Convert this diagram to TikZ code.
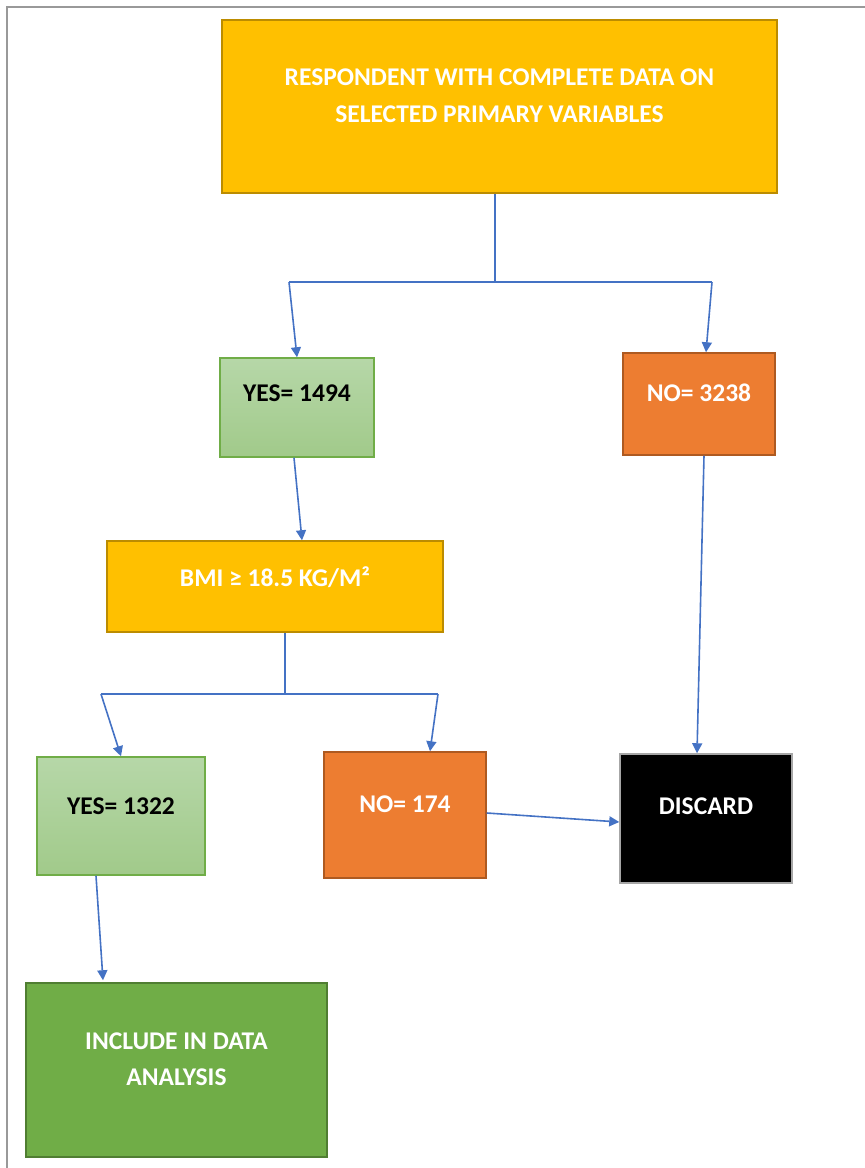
\documentclass[tikz,border=0pt]{standalone}
\usepackage{fontspec}
\setmainfont{Carlito}
\usetikzlibrary{arrows.meta}
\definecolor{gold}{HTML}{FFC000}
\definecolor{goldline}{HTML}{BC8C00}
\definecolor{orng}{HTML}{ED7D31}
\definecolor{orngline}{HTML}{AE5A21}
\definecolor{lgreentop}{HTML}{B6D7A8}
\definecolor{lgreenbot}{HTML}{A1CA8A}
\definecolor{dgreen}{HTML}{70AD47}
\definecolor{dgreenline}{HTML}{507E32}
\definecolor{linkblue}{HTML}{4472C4}
\begin{document}
\begin{tikzpicture}[x=1pt,y=-1pt,
  box/.style={rectangle,line width=1.5pt,inner sep=0pt,align=center,
    font=\bfseries\fontsize{25.5}{36.5}\selectfont,text height=16pt,text depth=22pt},
  twoline/.style={text height=53.5pt,text depth=22pt},
  goldbox/.style={box,fill=gold,draw=goldline,text=white},
  orngbox/.style={box,fill=orng,draw=orngline,text=white},
  yesbox/.style={box,top color=lgreentop,bottom color=lgreenbot,draw=dgreen,text=black},
  link/.style={draw=linkblue,line width=1.6pt},
  arr/.style={link,-{Triangle[length=10pt,width=10pt]}}]
  \useasboundingbox (0,0) rectangle (865,1168);
  \draw[gray!80,line width=1.5pt] (7,1168) -- (7,7) -- (865,7);

  \node[goldbox,twoline,minimum width=555pt,minimum height=173pt] (resp) at (499.5,106.5)
    {RESPONDENT WITH COMPLETE DATA ON\\SELECTED PRIMARY VARIABLES};
  \node[yesbox,minimum width=154pt,minimum height=99pt,text depth=29pt] (yes1) at (297,407.5) {YES= 1494};
  \node[orngbox,minimum width=152pt,minimum height=102pt] (no1) at (699,404) {NO= 3238};
  \node[goldbox,minimum width=336pt,minimum height=91pt,text depth=17pt] (bmi) at (275,586.5) {BMI ≥ 18.5 KG/M²};
  \node[yesbox,minimum width=168pt,minimum height=118pt,text depth=20pt] (yes2) at (121,816) {YES= 1322};
  \node[orngbox,minimum width=162pt,minimum height=126pt] (no2) at (405,815) {NO= 174};
  \node[box,fill=black,draw=gray!70,text=white,minimum width=172pt,minimum height=129pt,text depth=25pt]
    (disc) at (706,818.5) {DISCARD};
  \node[box,twoline,fill=dgreen,draw=dgreenline,text=white,minimum width=301pt,minimum height=174pt]
    (incl) at (176.5,1070) {INCLUDE IN DATA\\ANALYSIS};

  \coordinate (s1) at (495,282);
  \coordinate (l1) at (289,282);
  \coordinate (r1) at (712,282);
  \draw[link] (resp.south -| s1) -- (s1);
  \draw[link] (l1) -- (r1);
  \draw[arr] (l1) -- (yes1.north);
  \draw[arr] (r1) -- ([xshift=7pt]no1.north);
  \draw[arr] ([xshift=-3pt]yes1.south) -- ([xshift=27pt]bmi.north);

  \coordinate (s2) at (285,694);
  \coordinate (l2) at (101,694);
  \coordinate (r2) at (438,694);
  \draw[link] (bmi.south -| s2) -- (s2);
  \draw[link] (l2) -- (r2);
  \draw[arr] (l2) -- (yes2.north);
  \draw[arr] (r2) -- ([xshift=25pt]no2.north);

  \draw[arr] ([xshift=5pt]no1.south) -- ([xshift=-9pt]disc.north);
  \draw[arr] ([yshift=2pt]no2.east) -- ([yshift=-3.5pt]disc.west);
  \draw[arr] ([xshift=-25pt]yes2.south) -- ([xshift=-73.5pt,yshift=2pt]incl.north);
\end{tikzpicture}
\end{document}
